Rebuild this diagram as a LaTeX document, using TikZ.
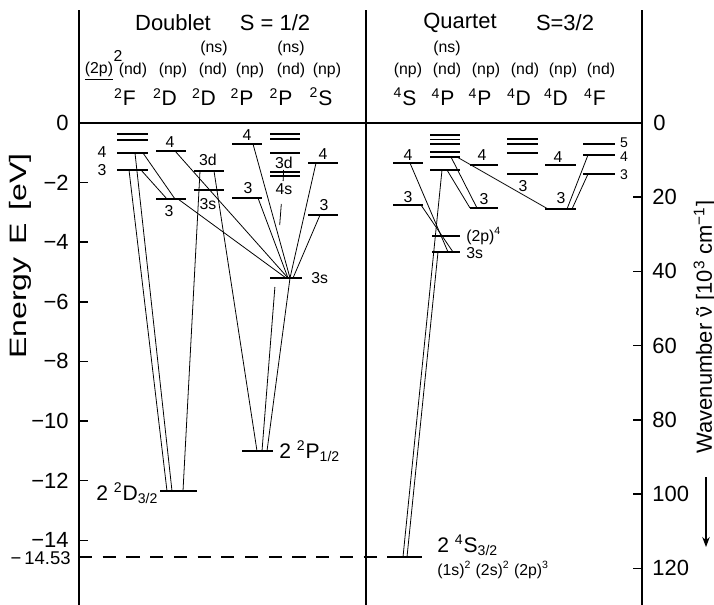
\documentclass[tikz,border=0pt]{standalone}
\usepackage{fontspec}
\setmainfont{Liberation Sans}
\usetikzlibrary{arrows.meta}

\begin{document}
\begin{tikzpicture}[
    % pixel-like units, y pointing down
    x=0.02cm, y=-0.02cm,
    >=Stealth,
    lvl/.style={line width=0.8pt},
    lvlthick/.style={line width=1.6pt},
    trans/.style={line width=0.45pt},
    frame/.style={line width=1.1pt},
    small/.style={font=\fontsize{9}{10}\selectfont, inner sep=0pt},
    conf/.style={font=\fontsize{9}{10}\selectfont, inner sep=0pt},
    term/.style={font=\fontsize{12}{13}\selectfont, inner sep=0pt},
    tick/.style={font=\fontsize{10.5}{12}\selectfont, inner sep=0pt},
    big/.style={font=\fontsize{12.5}{14}\selectfont, inner sep=0pt}
    ]
    
    \useasboundingbox (0,0) rectangle (714,605);
    
    % Parameters
    \def\Ezero{123}   % y of E = 0
    \def\pxeV{29.8}   % px per eV
    \def\pxk{3.71}    % px per 10^3 cm^-1
    
    % Frame and E = 0 line
    \draw[frame] (79,10) -- (79,605);
    \draw[frame] (366,10) -- (366,605);
    \draw[frame] (642,10) -- (642,605);
    \draw[line width=1.3pt] (79,\Ezero) -- (642,\Ezero);
    
    % Energy axis
    \node[big, anchor=east] (e0) at (69,\Ezero) {0};
    \foreach \v in {2,4,...,14}{
        \pgfmathsetmacro{\yy}{\Ezero+\pxeV*\v}
        \draw[line width=0.8pt] (79,\yy) -- (88,\yy);
        \node[big, anchor=east] (e\v) at (69,\yy) {−\v};
    }
    \node[tick, anchor=east] (eion) at (71,558.5) {−\,14.53};
    \draw[line width=0.6pt, dash pattern=on 7.5pt off 6pt] (79,557) -- (393,557);
    \node[font=\fontsize{13.5}{15}\selectfont, inner sep=0pt, rotate=90] (eaxis) at (20,256)
        {\scalebox{1.35}[1]{Energy\hspace{0.4em}E\hspace{0.4em}[eV]}};
    
    % Wavenumber axis
    \node[big, anchor=west] (k0) at (653,\Ezero) {0};
    \foreach \k in {20,40,...,120}{
        \pgfmathsetmacro{\yy}{\Ezero+\pxk*\k}
        \draw[line width=0.8pt] (633,\yy) -- (642,\yy);
        \node[big, anchor=west] (k\k) at (652,\yy) {\k};
    }
    \node[big, rotate=90] (kaxis) at (705,327)
        {Wavenumber \ooalign{ν\cr\hidewidth ˜\hidewidth\cr} [10\textsuperscript{3} cm\textsuperscript{−1}]};
    \coordinate (ka) at (706,477);
    \coordinate (kb) at (706,547);
    \draw[->, line width=0.6pt] (ka) -- (kb);
    
    % Headings
    \node[big] (dbl)  at (173,23) {Doublet};
    \node[big] (dblS) at (275,23) {S = 1/2};
    \node[big] (qrt)  at (460,23) {Quartet};
    \node[big] (qrtS) at (565,23) {S=3/2};
    
    % Doublet configurations and terms
    \node[conf] (dns1) at (214,48) {(ns)};
    \node[conf] (dns2) at (291,48) {(ns)};
    \node[conf] (dcore) at (99,71) {\underline{(2p)}};
    \node[conf] (dcsup) at (118,56) {2};
    \foreach \x/\c [count=\i] in {133/nd,173/np,213/nd,250/np,291/nd,327/np}
        \node[conf] (dc\i) at (\x,70) {(\c)};
    \foreach \x/\t [count=\i] in {125/F,165/D,204/D,242/P,281/P,321/S}
        \node[term] (dt\i) at (\x,97) {\textsuperscript{2}\t};
    
    % Quartet configurations and terms
    \node[conf] (qns) at (447,48) {(ns)};
    \foreach \x/\c [count=\i] in {408/np,447/nd,486/np,525/nd,563/np,601/nd}
        \node[conf] (qc\i) at (\x,70) {(\c)};
    \foreach \x/\t [count=\i] in {405/S,443/P,480/P,519/D,556/D,595/F}
        \node[term] (qt\i) at (\x,97) {\textsuperscript{4}\t};
    
    % Doublet levels
    \foreach \xa/\xb/\y in {117/148/134, 117/148/140, 117/148/153, 117/148/170,
                            156/186/151, 156/186/199,
                            194/224/171, 194/224/190,
                            232/262/144, 232/262/198,
                            270/300/134, 270/300/139, 270/300/153, 270/300/172, 270/300/176,
                            308/338/163, 308/338/215}
        \draw[lvl] (\xa,\y) -- (\xb,\y);
    \draw[lvlthick] (270,278) -- (302,278);
    \draw[lvlthick] (242,451) -- (273,451);
    \draw[lvlthick] (160,491) -- (197,491);
    
    % Quartet levels
    \foreach \xa/\xb/\y in {393/423/163, 393/423/205,
                            430/460/135, 430/460/139.5, 430/460/144, 430/460/152, 430/460/157, 430/460/170,
                            432/460/236, 432/460/252,
                            470/498/165, 470/498/208,
                            507/538/139, 507/538/144, 507/538/153, 507/538/174,
                            545/576/165, 545/576/209,
                            583/615/144, 583/615/155, 583/615/174}
        \draw[lvl] (\xa,\y) -- (\xb,\y);
    \draw[lvlthick] (393,557) -- (422,557);
    
    % Doublet level labels
    \node[small] (lF4) at (102,152) {4};
    \node[small] (lF3) at (102,170) {3};
    \node[small] (lDp4) at (170,142) {4};
    \node[small] (lDp3) at (169,211) {3};
    \node[small] (lDd3) at (208,160) {3d};
    \node[small] (lDd2) at (208,204) {3s};
    \node[small] (lPp4) at (247,135) {4};
    \node[small] (lPp3) at (248,188) {3};
    \node[small] (lPd3) at (284,163) {3d};
    \node[small] (lPd4) at (284,189) {4s};
    \node[small] (lS4) at (323,154) {4};
    \node[small] (lS3) at (324,205) {3};
    \node[small, anchor=west] (l3s) at (311,278) {3s};
    \node[term, anchor=west] (lP2) at (279,451) {2 \textsuperscript{2}P\textsubscript{1/2}};
    \node[term, anchor=west] (lD2) at (96,493) {2 \textsuperscript{2}D\textsubscript{3/2}};
    
    % Quartet level labels
    \node[small] (qS4) at (408,155) {4};
    \node[small] (qS3) at (408,197) {3};
    \node[small, anchor=west] (q2p4) at (466,236) {(2p)\textsuperscript{4}};
    \node[small, anchor=west] (q3s) at (466,253) {3s};
    \node[small] (qPp4) at (482,155) {4};
    \node[small] (qPp3) at (484,199) {3};
    \node[small] (qDd3) at (523,186) {3};
    \node[small] (qDp4) at (558,157) {4};
    \node[small] (qDp3) at (561,198) {3};
    \node[font=\fontsize{8}{9}\selectfont, inner sep=0pt] (qF5) at (624,143) {5};
    \node[font=\fontsize{8}{9}\selectfont, inner sep=0pt] (qF4) at (624,156.5) {4};
    \node[font=\fontsize{8}{9}\selectfont, inner sep=0pt] (qF3) at (624,175) {3};
    \node[term, anchor=west] (qgs) at (437,545) {2 \textsuperscript{4}S\textsubscript{3/2}};
    \node[conf, anchor=west] (qgc) at (437,570) {(1s)\textsuperscript{2} (2s)\textsuperscript{2} (2p)\textsuperscript{3}};
    
    % Doublet transition end points
    \coordinate (dF4)   at (135,153);
    \coordinate (dF4r)  at (143,153);
    \coordinate (dF3)   at (129,170);
    \coordinate (dF3r)  at (141,170);
    \coordinate (dDp4)  at (175,151);
    \coordinate (dDp3a) at (167,199);
    \coordinate (dDp3b) at (175,199);
    \coordinate (dDp3c) at (178,199);
    \coordinate (dDd3a) at (200,171);
    \coordinate (dDd3b) at (214,171);
    \coordinate (dPp4)  at (253,144);
    \coordinate (dPp3)  at (258,198);
    \coordinate (dS4)   at (316,163);
    \coordinate (dS3)   at (320,215);
    \coordinate (d3sa)  at (286,278);
    \coordinate (d3sb)  at (288,278);
    \coordinate (d3sc)  at (290,278);
    \coordinate (d3sd)  at (293,278);
    \coordinate (dD2a)  at (167,491);
    \coordinate (dD2b)  at (172,491);
    \coordinate (dD2c)  at (183,491);
    \coordinate (dP2a)  at (257,451);
    \coordinate (dP2b)  at (262,451);
    \coordinate (dP2c)  at (267,451);
    
    % Doublet transitions
    \draw[trans] (dF3) -- (dD2a);
    \draw[trans] (dF4) -- (dD2b);
    \draw[trans] (dF3r) -- (dDp3a);
    \draw[trans] (dF4r) -- (dDp3b);
    \draw[trans] (dDp3c) -- (d3sa);
    \draw[trans] (dDp4) -- (d3sb);
    \draw[trans] (dDd3a) -- (dD2c);
    \draw[trans] (dDd3b) -- (dP2a);
    \draw[trans] (dPp3) -- (d3sb);
    \draw[trans] (dPp4) -- (d3sc);
    \draw[trans] (dS4) -- (d3sc);
    \draw[trans] (dS3) -- (d3sd);
    \draw[trans] (d3sc) -- (dP2c);
    % 4s line, broken where it passes labels and the 3s level
    \draw[trans] (283.6,170) -- (283.1,181);
    \draw[trans] (281.3,204) -- (279.7,225);
    \draw[trans] (274.9,287) -- (dP2b);
    
    % Quartet transition end points
    \coordinate (qS4)  at (410,163);
    \coordinate (qS3)  at (421,205);
    \coordinate (qP4s) at (442,170);
    \coordinate (qP4sr) at (447,170);
    \coordinate (qP3d) at (451,157);
    \coordinate (qP3dr) at (457,157);
    \coordinate (q3sa) at (438,252);
    \coordinate (q3sb) at (448,252);
    \coordinate (q3sc) at (453,252);
    \coordinate (qPp3a) at (470,208);
    \coordinate (qPp3b) at (477,208);
    \coordinate (qDp3a) at (548,209);
    \coordinate (qDp3b) at (567,209);
    \coordinate (qDp3c) at (572,209);
    \coordinate (qF4)  at (588,155);
    \coordinate (qF3)  at (588,174);
    \coordinate (qgsa) at (403,557);
    \coordinate (qgsb) at (407,557);
    
    % Quartet transitions
    \draw[trans] (qS4) -- (q3sb);
    \draw[trans] (qS3) -- (q3sc);
    \draw[trans] (qP4s) -- (qgsa);
    \draw[trans] (q3sa) -- (qgsb);
    \draw[trans] (qP4sr) -- (qPp3a);
    \draw[trans] (qP3d) -- (qPp3b);
    \draw[trans] (qP3dr) -- (qDp3a);
    \draw[trans] (qF4) -- (qDp3b);
    \draw[trans] (qF3) -- (qDp3c);
\end{tikzpicture}
\end{document}
